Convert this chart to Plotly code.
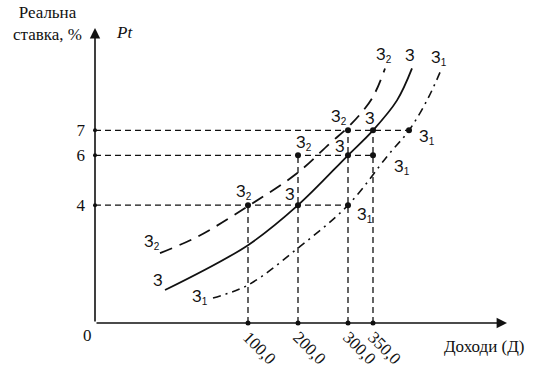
import plotly.graph_objects as go

# ---- data ----
z_x = [-66, 100, 200, 300, 350, 398, 428]
z_y = [0.6, 2.4, 4, 6, 7, 8.2, 9.48]

z2_x = [-76, 0, 100, 198, 264, 304, 348, 374]
z2_y = [2.08, 2.75, 3.96, 5.28, 6.48, 7.2, 8.28, 9.48]

z1_x = [30, 100, 200, 300, 380, 422, 458, 484]
z1_y = [0.28, 0.8, 2.28, 4, 6, 7, 8.2, 9.32]

rate_levels = [4, 6, 7]
rate_line_ends = [300, 350, 422]
income_levels = [100, 200, 300, 350]
income_line_tops = [4, 6, 7, 7]
income_tick_text = ["100,0", "200,0", "300,0", "350,0"]

dots_x = [100, 200, 300, 200, 300, 350, 300, 350, 422]
dots_y = [4, 4, 4, 6, 6, 6, 7, 7, 7]

SUB = '<sub><span style="font-size:10px">{}</span></sub>'
curve_labels = ["З" + SUB.format(2), "З", "З" + SUB.format(1)] * 5

# ---- layout helpers ----
X0, X_TIP = -206, 618
Y0, Y_TIP = -0.72, 11.1
label_pos = [(372, 10.0), (424, 10.0), (482, 9.88),
             (282, 7.52), (344, 7.48), (458, 6.72),
             (212, 6.48), (284, 6.36), (408, 5.52),
             (92, 4.52), (184, 4.44), (334, 3.6),
             (-92, 2.52), (-80, 1.0), (4, 0.32)]

BLACK = "#111111"
fig = go.Figure()

# guide lines
for lv, end in zip(rate_levels, rate_line_ends):
    fig.add_trace(go.Scatter(x=[X0, end], y=[lv, lv], mode="lines",
                             line=dict(color=BLACK, width=1.3, dash="6px,4px"),
                             showlegend=False, hoverinfo="skip"))
for xv, top in zip(income_levels, income_line_tops):
    fig.add_trace(go.Scatter(x=[xv, xv], y=[Y0, top], mode="lines",
                             line=dict(color=BLACK, width=1.3, dash="6px,4px"),
                             showlegend=False, hoverinfo="skip"))

# curves
fig.add_trace(go.Scatter(x=z_x, y=z_y, mode="lines",
                         line=dict(color=BLACK, width=1.8, shape="spline", smoothing=1),
                         showlegend=False))
fig.add_trace(go.Scatter(x=z2_x, y=z2_y, mode="lines",
                         line=dict(color=BLACK, width=1.8, shape="spline", smoothing=1,
                                   dash="13px,8px"),
                         showlegend=False))
fig.add_trace(go.Scatter(x=z1_x, y=z1_y, mode="lines",
                         line=dict(color=BLACK, width=1.6, shape="spline", smoothing=1,
                                   dash="8px,5px,2px,5px"),
                         showlegend=False))

# dots
fig.add_trace(go.Scatter(x=dots_x, y=dots_y, mode="markers",
                         marker=dict(color=BLACK, size=6), showlegend=False,
                         cliponaxis=False))
fig.add_trace(go.Scatter(x=[X0] * len(rate_levels), y=rate_levels, mode="markers",
                         marker=dict(color=BLACK, size=4), showlegend=False,
                         cliponaxis=False))
fig.add_trace(go.Scatter(x=income_levels, y=[Y0] * len(income_levels), mode="markers",
                         marker=dict(color=BLACK, size=5), showlegend=False,
                         cliponaxis=False))

ann = []
# axis arrows
ann.append(dict(x=X0, y=Y_TIP, ax=X0, ay=Y0, xref="x", yref="y", axref="x", ayref="y",
                text="", showarrow=True, arrowhead=2, arrowsize=1.3, arrowwidth=1.6,
                arrowcolor=BLACK))
ann.append(dict(x=X_TIP, y=Y0, ax=X0, ay=Y0, xref="x", yref="y", axref="x", ayref="y",
                text="", showarrow=True, arrowhead=2, arrowsize=1.3, arrowwidth=1.6,
                arrowcolor=BLACK))
# curve labels
for t, (lx, ly) in zip(curve_labels, label_pos):
    ann.append(dict(x=lx, y=ly, xref="x", yref="y", text=t, showarrow=False,
                    xanchor="center", yanchor="middle",
                    font=dict(family="Liberation Sans", size=16, color=BLACK)))
serif = dict(family="Liberation Serif", size=17, color=BLACK)
ann.append(dict(x=-0.1165, y=1.015, xref="paper", yref="paper",
                text="Реальна<br>ставка, %", showarrow=False, font=serif,
                align="center", xanchor="center", yanchor="middle"))
ann.append(dict(x=-148, y=10.9, xref="x", yref="y", text="<i>Pt</i>",
                showarrow=False, font=serif, xanchor="center", yanchor="middle"))
ann.append(dict(x=0.944, y=-0.081, xref="paper", yref="paper", text="Доходи (Д)",
                showarrow=False, font=serif, xanchor="center", yanchor="middle"))
ann.append(dict(x=-0.019, y=-0.044, xref="paper", yref="paper", text="0",
                showarrow=False, font=serif, xanchor="center", yanchor="middle"))

fig.update_layout(
    width=536, height=371,
    margin=dict(l=95, r=29, t=28, b=48),
    paper_bgcolor="white", plot_bgcolor="white",
    annotations=ann,
    xaxis=dict(range=[X0, X_TIP], showgrid=False, zeroline=False, showline=False,
               automargin=False,
               tickvals=income_levels, ticktext=income_tick_text, tickangle=45,
               ticks="", tickfont=dict(family="Liberation Serif", size=17, color=BLACK)),
    yaxis=dict(range=[Y0, Y_TIP], showgrid=False, zeroline=False, showline=False,
               automargin=False,
               tickvals=rate_levels, ticks="", ticklabelstandoff=9,
               tickfont=dict(family="Liberation Serif", size=17, color=BLACK)),
)

fig.write_html("out.html", config={"displayModeBar": False},
               post_script="document.body.style.margin='0px';")
